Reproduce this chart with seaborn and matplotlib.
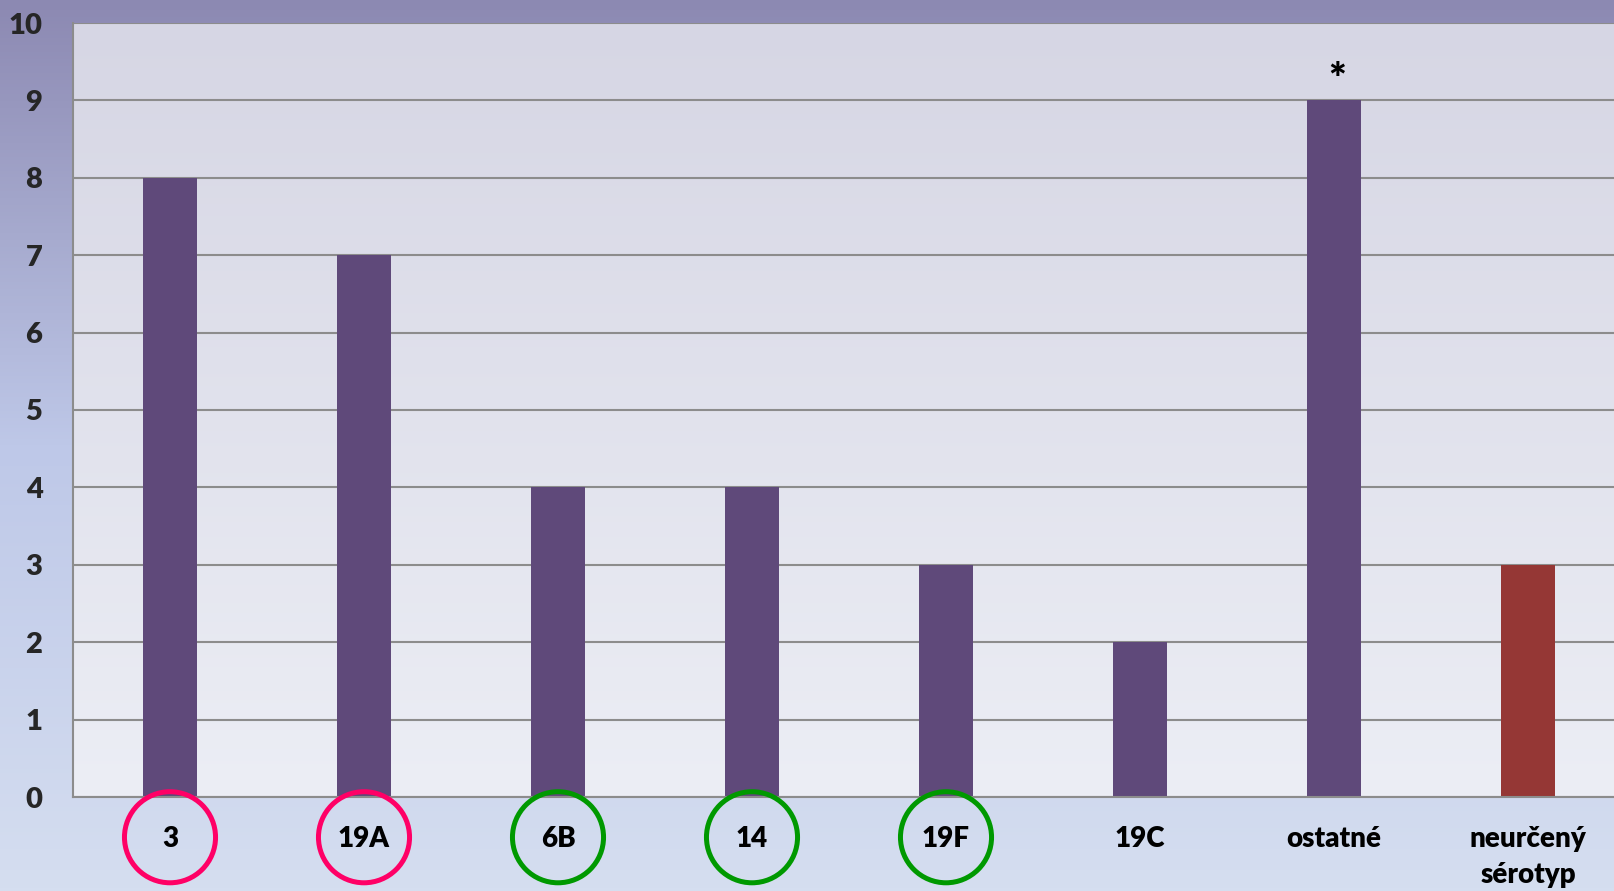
import numpy as np
import pandas as pd
import matplotlib
matplotlib.use("Agg")
import matplotlib.pyplot as plt
import seaborn as sns

categories = ["3", "19A", "6B", "14", "19F", "19C", "ostatné", "neurčený\nsérotyp"]
values = [8, 7, 4, 4, 3, 2, 9, 3]
groups = ["typed", "typed", "typed", "typed", "typed", "typed", "typed", "undetermined"]
circle_colors = ["#FF0066", "#FF0066", "#009900", "#009900", "#009900", None, None, None]
y_ticks = list(range(0, 11))
star_category = "ostatné"

sns.set_theme(style="white")
plt.rcParams["font.family"] = ["Lato", "DejaVu Sans"]
plt.rcParams["font.weight"] = "heavy"

W, H = 1614, 891
fig = plt.figure(figsize=(W / 100, H / 100), dpi=100)

# figure background gradient
bg = fig.add_axes([0, 0, 1, 1], zorder=-10)
top = np.array([140, 137, 178]) / 255
mid = np.array([190, 200, 232]) / 255
bot = np.array([213, 222, 240]) / 255
t = np.linspace(0, 1, 256)[:, None]
grad = np.where(t < 0.5, top + (mid - top) * (t / 0.5), mid + (bot - mid) * ((t - 0.5) / 0.5))
bg.imshow(grad[:, None, :].repeat(2, axis=1), aspect="auto", extent=[0, 1, 0, 1])
bg.set_axis_off()

left = 73 / W
width = 8 * 194 / W
bottom = 1 - 797 / H
height = (797 - 23) / H
ax = fig.add_axes([left, bottom, width, height])
ax.patch.set_alpha(0)

# axes background gradient
atop = np.array([214, 214, 228]) / 255
abot = np.array([236, 238, 245]) / 255
agrad = atop + (abot - atop) * t
ax.imshow(agrad[:, None, :].repeat(2, axis=1), aspect="auto",
          extent=[0, 1, 0, 1], transform=ax.transAxes, zorder=0)

df = pd.DataFrame({"cat": categories, "val": values, "grp": groups})
sns.barplot(data=df, x="cat", y="val", hue="grp",
            palette={"typed": "#5F497A", "undetermined": "#953735"},
            width=0.28, dodge=False, legend=False, ax=ax, zorder=3,
            saturation=1, linewidth=0, edgecolor="none")

ax.set_xlim(-0.5, len(categories) - 0.5)
ax.set_ylim(0, 10)
ax.set_yticks(y_ticks)
ax.set_yticklabels([str(v) for v in y_ticks], fontsize=21, fontweight="heavy")
ax.yaxis.grid(True, color="#8C8C8C", linewidth=1.5, zorder=1)
ax.set_axisbelow(True)
ax.set_xlabel("")
ax.set_ylabel("")

ax.set_xticks(range(len(categories)))
ax.set_xticklabels(categories, fontsize=20, fontweight="heavy", va="top",
                   linespacing=1.45)
ax.set_xticks(np.arange(-0.5, len(categories), 1.0), minor=True)
ax.tick_params(axis="x", which="major", length=0, pad=21, colors="black")
ax.tick_params(axis="x", which="minor", length=8, width=1.5, color="#8C8C8C")
ax.tick_params(axis="y", length=10, width=1.5, color="#8C8C8C", pad=12)
for lbl in ax.get_xticklabels():
    lbl.set_color("black")

for s in ["top", "right"]:
    ax.spines[s].set_visible(False)
for s in ["left", "bottom"]:
    ax.spines[s].set_color("#8C8C8C")
    ax.spines[s].set_linewidth(1.5)
ax.spines["left"].set_zorder(5)
ax.spines["bottom"].set_zorder(5)

# circles around selected labels
trans = ax.get_xaxis_transform()
for i, c in enumerate(circle_colors):
    if c:
        ax.scatter([i], [-0.052], s=4300, facecolors="none", edgecolors=c,
                   linewidths=3.6, transform=trans, clip_on=False, zorder=6)

si = categories.index(star_category)
ax.annotate("*", xy=(si, values[si]), xytext=(2, 0), textcoords="offset points",
            ha="center", va="bottom", fontsize=30, fontweight="heavy",
            color="black", zorder=6)

fig.savefig("out.png", dpi=100)
